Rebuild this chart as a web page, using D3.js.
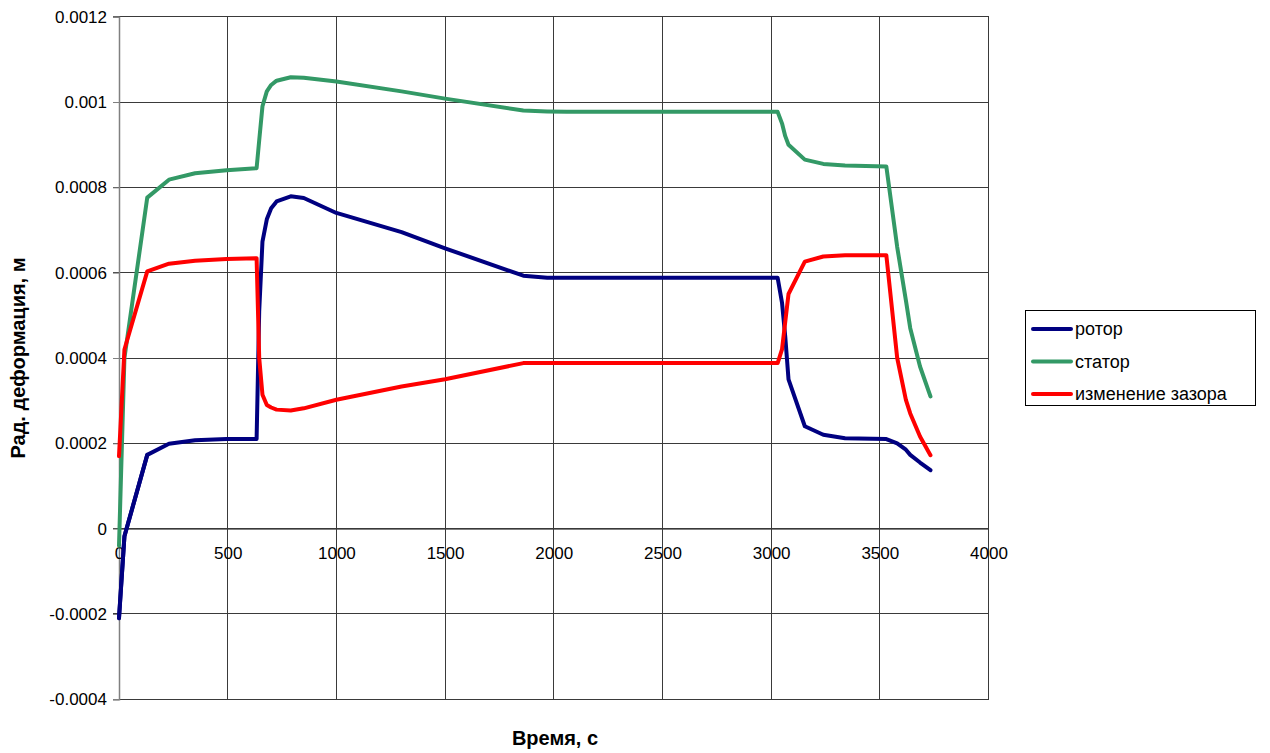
<!DOCTYPE html>
<html>
<head>
<meta charset="utf-8">
<script src="https://cdn.jsdelivr.net/npm/d3@7"></script>
<style>
  html, body { margin: 0; padding: 0; background: #fff; }
  svg { display: block; font-family: "Liberation Sans", Arial, sans-serif; }
</style>
</head>
<body>
<svg id="chart" width="1270" height="753"></svg>
<script>
// Time points, s
const time = [0, 25, 130, 230, 350, 495, 633, 645, 660, 680, 700, 725, 790, 850, 1000, 1300, 1500,
  1860, 1970, 2060, 3030, 3050, 3065, 3080, 3155, 3240, 3340, 3530, 3580, 3620, 3640, 3685, 3733];

// Radial deformation, m
const rotor = [-0.00021, -0.000018, 0.000173, 0.000199, 0.000207, 0.00021, 0.00021, 0.00051, 0.000673,
  0.000725, 0.000751, 0.000767, 0.000779, 0.000775, 0.00074, 0.000695, 0.000657, 0.000593, 0.000588, 0.000588,
  0.000588, 0.00053, 0.00045, 0.00035, 0.00024, 0.00022, 0.000212, 0.00021, 0.0002, 0.000185,
  0.000173, 0.000155, 0.000137];

const stator = [-0.00004, 0.0004, 0.000776, 0.000818, 0.000833, 0.00084, 0.000845, 0.00091, 0.00099,
  0.001025, 0.00104, 0.00105, 0.001058, 0.001057, 0.001048, 0.001025, 0.001008, 0.00098, 0.000978, 0.000977,
  0.000977, 0.00095, 0.00092, 0.0009, 0.000865, 0.000855, 0.000851, 0.000849, 0.00066, 0.000535,
  0.00047, 0.00038, 0.00031];

const gap = [0.00017, 0.00042, 0.000603, 0.000621, 0.000628, 0.000632, 0.000634, 0.0004, 0.000314,
  0.00029, 0.000284, 0.000279, 0.000277, 0.000282, 0.000302, 0.000333, 0.00035, 0.000388, 0.000388, 0.000388,
  0.000388, 0.00042, 0.000485, 0.00055, 0.000626, 0.000638, 0.000641, 0.000641, 0.0004, 0.000302,
  0.00027, 0.000216, 0.000172];

const seriesNames = ["ротор", "статор", "изменение зазора"];
const seriesColors = ["#000080", "#339966", "#ff0000"];
const xTicks = [0, 500, 1000, 1500, 2000, 2500, 3000, 3500, 4000];
const yTicks = [-0.0004, -0.0002, 0, 0.0002, 0.0004, 0.0006, 0.0008, 0.001, 0.0012];
const yTickLabels = ["-0.0004", "-0.0002", "0", "0.0002", "0.0004", "0.0006", "0.0008", "0.001", "0.0012"];

const svg = d3.select("#chart");
const plot = { left: 119, right: 988.5, top: 16.7, bottom: 699.3 };

const x = d3.scaleLinear().domain([0, 4000]).range([plot.left, plot.right]);
const y = d3.scaleLinear().domain([-0.0004, 0.0012]).range([plot.bottom, plot.top]);

// grid
const grid = svg.append("g");
grid.selectAll("line.v").data(xTicks.filter(d => d > 0)).join("line")
  .attr("x1", d => x(d)).attr("x2", d => x(d))
  .attr("y1", plot.top).attr("y2", plot.bottom)
  .attr("stroke", "#3a3a3a").attr("stroke-width", 1).attr("shape-rendering", "crispEdges");
grid.selectAll("line.h").data(yTicks).join("line")
  .attr("x1", plot.left - 6).attr("x2", plot.right)
  .attr("y1", d => y(d)).attr("y2", d => y(d))
  .attr("stroke", "#3a3a3a").attr("stroke-width", 1).attr("shape-rendering", "crispEdges");

// y axis
const yAxis = d3.axisLeft(y).tickValues(yTicks)
  .tickFormat((d, i) => yTickLabels[i]).tickSize(6).tickPadding(6);
svg.append("g").attr("transform", `translate(${plot.left},0)`).call(yAxis)
  .call(g => g.select(".domain").attr("stroke", "#808080").attr("stroke-width", 1.5))
  .call(g => g.selectAll(".tick line").attr("stroke", "#808080"))
  .call(g => g.selectAll("text").attr("font-size", 17).attr("fill", "#000")
    .attr("font-family", "'Liberation Sans', Arial, sans-serif"));

// x axis through zero
const xAxis = d3.axisBottom(x).tickValues(xTicks).tickFormat(d3.format("d")).tickSize(0).tickPadding(18);
svg.append("g").attr("transform", `translate(0,${y(0)})`).call(xAxis)
  .call(g => g.select(".domain").attr("stroke", "#3a3a3a").attr("stroke-width", 1))
  .call(g => g.selectAll("text").attr("font-size", 17).attr("fill", "#000")
    .attr("font-family", "'Liberation Sans', Arial, sans-serif"));

// series
const line = d3.line().x((d, i) => x(time[i])).y(d => y(d));
const series = [rotor, stator, gap];
series.forEach((s, k) => {
  svg.append("path").datum(s).attr("d", line)
    .attr("fill", "none").attr("stroke", seriesColors[k])
    .attr("stroke-width", 4).attr("stroke-linejoin", "round").attr("stroke-linecap", "round");
});
// rotor start redrawn on top near the origin
svg.append("path").datum(rotor.slice(0, 3))
  .attr("d", line)
  .attr("fill", "none").attr("stroke", seriesColors[0]).attr("stroke-width", 4)
  .attr("stroke-linejoin", "round").attr("stroke-linecap", "round");

// axis titles
svg.append("text").attr("x", 555).attr("y", 745).attr("text-anchor", "middle")
  .attr("font-size", 20).attr("font-weight", "bold").text("Время, с");
svg.append("text").attr("transform", "translate(25,358) rotate(-90)").attr("text-anchor", "middle")
  .attr("font-size", 20).attr("font-weight", "bold").text("Рад. деформация, м");

// legend
const lg = svg.append("g");
lg.append("rect").attr("x", 1025.5).attr("y", 310.5).attr("width", 230).attr("height", 95)
  .attr("fill", "#fff").attr("stroke", "#000").attr("stroke-width", 1);
seriesNames.forEach((n, i) => {
  const yy = 329 + i * 32.5;
  lg.append("line").attr("x1", 1033).attr("x2", 1071).attr("y1", yy).attr("y2", yy)
    .attr("stroke", seriesColors[i]).attr("stroke-width", 4).attr("stroke-linecap", "round");
  lg.append("text").attr("x", 1075).attr("y", yy + 6).attr("font-size", 18).text(n);
});
</script>
</body>
</html>
